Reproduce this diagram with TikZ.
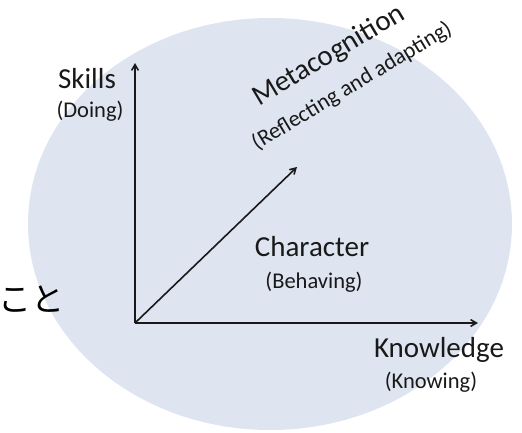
\documentclass[tikz,border=0pt]{standalone}
\usepackage{fontspec}
\setmainfont{Carlito}
\newfontfamily\jpfont{Noto Sans CJK JP}
\usepackage{tikz}
\usetikzlibrary{arrows,shapes}

\definecolor{bgblue}{RGB}{222,229,240}
\definecolor{ink}{RGB}{25,25,25}

\tikzset{
    axis/.style={ink,line width=1.6pt,->,>=angle 60},
    big/.style={ink,font=\fontsize{29}{32}\selectfont,inner sep=0pt},
    small/.style={ink,font=\fontsize{22.5}{25}\selectfont,inner sep=0pt}
}

\begin{document}
\begin{tikzpicture}[x=1pt,y=1pt]
\useasboundingbox (0,0) rectangle (522,432);
\fill[bgblue] (270,208) ellipse [x radius=242,y radius=206];
%,fill=bgblue!80]
\node [anchor=base east,inner sep=0pt,font=\jpfont\fontsize{33}{35}\selectfont] (koto) at (65,121) {こと};

\coordinate (o) at (135,109);
\coordinate (s) at (135,369);
\coordinate (k) at (478,109);
\coordinate (m) at (297,265);
\draw [axis] (o) -- (s);
\draw [axis] (o) -- (k);
\draw [axis] (o) -- (m);

\node [big] (skills) at (87,353) {Skills};
\node [small] (doing) at (90,321) {(Doing)};
\node [big] (charac) at (312,185) {Character};
\node [small] (behav) at (314,150) {(Behaving)};
\node [big] (knowl) at (439,82) {Knowledge};
\node [small] (knowing) at (431,50) {(Knowing)};
\node [big,rotate=31] (meta) at (329,376) {Metacognition};
\node [small,rotate=31] (reflect) at (352,346) {(Reflecting and adapting)};
\end{tikzpicture}
\end{document}
